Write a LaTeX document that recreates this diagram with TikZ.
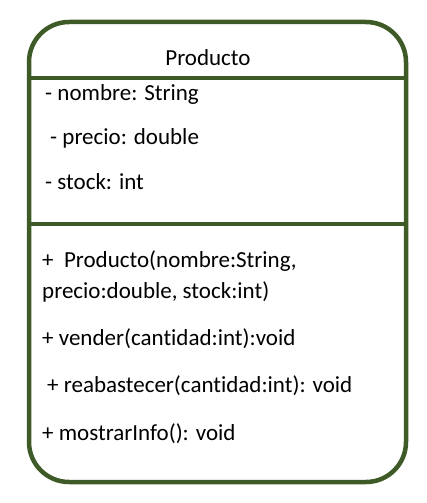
\documentclass[tikz,border=0pt]{standalone}
\usepackage{fontspec}
\setmainfont{Carlito}[Ligatures={NoCommon,NoContextual}]
\definecolor{boxgreen}{RGB}{62,90,38}
\begin{document}
\begin{tikzpicture}[x=1pt,y=-1pt,
  member/.style={anchor=base west,inner sep=0pt,font=\fontsize{23}{27}\selectfont,text=black},
  frame/.style={draw=boxgreen,line width=4.5pt}]
\useasboundingbox (0,0) rectangle (427,503);
\draw[frame,rounded corners=40pt] (29,22) rectangle (406,482);
\draw[frame] (29,78) -- (406,78);
\draw[frame] (29,224) -- (406,224);
\node[member,anchor=base] (title) at (208,66) {Producto};
\node[member] (a1) at (45,100) {- nombre: String};
\node[member] (a2) at (50,144) {- precio: double};
\node[member] (a3) at (45,189) {- stock: int};
\node[member] (m1) at (42,267) {+\ \ Producto(nombre:String,};
\node[member] (m1b) at (42,298) {precio:double, stock:int)};
\node[member] (m2) at (42,345) {+ vender(cantidad:int):void};
\node[member] (m3) at (47,392) {+ reabastecer(cantidad:int): void};
\node[member] (m4) at (42,440) {+ mostrarInfo(): void};
\end{tikzpicture}
\end{document}
